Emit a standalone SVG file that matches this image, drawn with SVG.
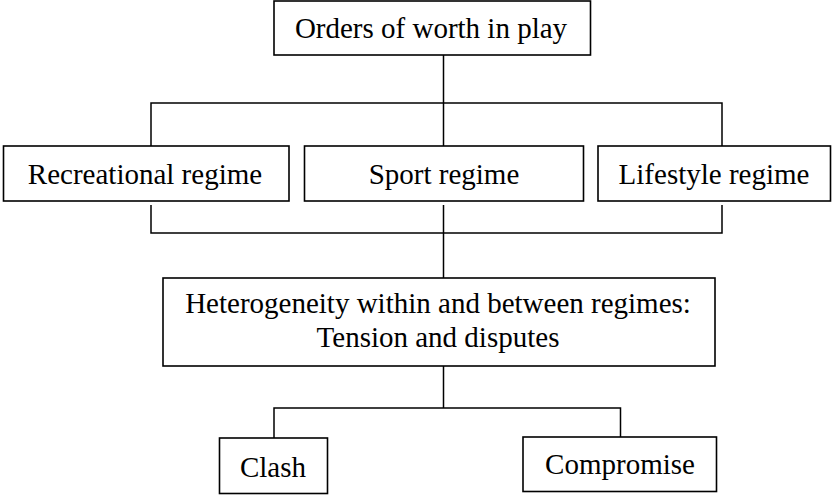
<svg xmlns="http://www.w3.org/2000/svg" width="832" height="496" viewBox="0 0 832 496">
<style>
.box{fill:#fff;stroke:#000;stroke-width:1.6}
.ln{fill:none;stroke:#000;stroke-width:1.5}
text{font-family:"Liberation Serif","Times New Roman",serif;font-size:29px;fill:#000;text-anchor:middle}
</style>
<rect width="832" height="496" fill="#fff"/>
<g id="connectors">
<path class="ln" d="M443.5 55 V103 M151 146 V103 H722 V146 M443.5 103 V146"/>
<path class="ln" d="M151 205 V233 H722 V205 M443.5 205 V278"/>
<path class="ln" d="M443.5 366 V408 M274 438 V408 H620.5 V437"/>
</g>
<g id="n-top"><rect class="box" x="274" y="1" width="316.5" height="54"/><text x="431" y="38">Orders of worth in play</text></g>
<g id="n-recreational"><rect class="box" x="3.5" y="146" width="285.5" height="55"/><text x="145" y="183.5">Recreational regime</text></g>
<g id="n-sport"><rect class="box" x="304.5" y="146" width="279" height="55"/><text x="444" y="183.5">Sport regime</text></g>
<g id="n-lifestyle"><rect class="box" x="598" y="146" width="232.5" height="55"/><text x="714" y="183.5">Lifestyle regime</text></g>
<g id="n-hetero"><rect class="box" x="163" y="278" width="552" height="88"/><text x="438" y="313">Heterogeneity within and between regimes:</text><text x="438" y="347">Tension and disputes</text></g>
<g id="n-clash"><rect class="box" x="219.5" y="438" width="108" height="55.5"/><text x="273" y="476.5">Clash</text></g>
<g id="n-compromise"><rect class="box" x="523" y="437" width="193.5" height="54.5"/><text x="620" y="474">Compromise</text></g>
</svg>
